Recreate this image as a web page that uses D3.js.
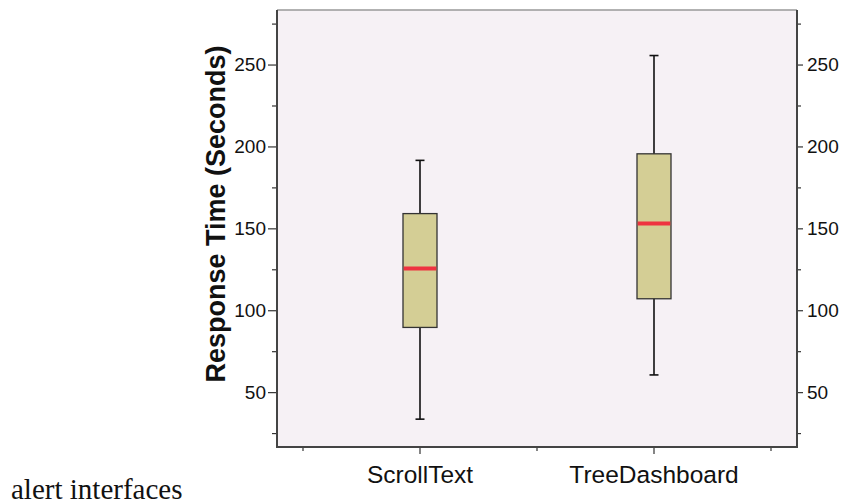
<!DOCTYPE html>
<html lang="en">
<head>
<meta charset="UTF-8">
<title>Response time box plot</title>
<script src="https://cdn.jsdelivr.net/npm/d3@7/dist/d3.min.js"></script>
<style>
  body { margin: 0; background: #fff; }
  svg { display: block; font-family: "Liberation Sans", Arial, sans-serif; }
</style>
</head>
<body>
<svg width="843" height="504"></svg>
<script>
// data
var categories = ["ScrollText", "TreeDashboard"];
var whiskerLow = [33.5, 60.5];
var q1 = [89.5, 107];
var medians = [125.5, 153];
var q3 = [159, 195.5];
var whiskerHigh = [191.5, 255.5];
var majorTicks = [50, 100, 150, 200, 250];
var minorTicks = [25, 75, 125, 175, 225, 275];

var svg = d3.select("svg");
var plot = { left: 277, right: 797, top: 10, bottom: 447 };

var y = d3.scaleLinear().domain([16.5, 283.3]).range([plot.bottom, plot.top]);
var x = d3.scaleBand().domain(categories).range([303, 771]);

// plot background
svg.append("rect")
  .attr("x", plot.left).attr("y", plot.top)
  .attr("width", plot.right - plot.left).attr("height", plot.bottom - plot.top)
  .attr("fill", "#f6f1f5");

// top frame line
svg.append("line")
  .attr("x1", plot.left).attr("x2", plot.right)
  .attr("y1", plot.top).attr("y2", plot.top)
  .attr("stroke", "#999").attr("stroke-width", 1.5);

// left axis
var gl = svg.append("g").attr("transform", "translate(" + plot.left + ",0)");
gl.call(d3.axisLeft(y).tickValues(majorTicks).tickSize(9).tickPadding(2).tickFormat(d3.format("d")));
var gl2 = svg.append("g").attr("transform", "translate(" + plot.left + ",0)");
gl2.call(d3.axisLeft(y).tickValues(minorTicks).tickSize(5).tickFormat(""));

// right axis
var gr = svg.append("g").attr("transform", "translate(" + plot.right + ",0)");
gr.call(d3.axisRight(y).tickValues(majorTicks).tickSize(6).tickPadding(4).tickFormat(d3.format("d")));
var gr2 = svg.append("g").attr("transform", "translate(" + plot.right + ",0)");
gr2.call(d3.axisRight(y).tickValues(minorTicks).tickSize(4).tickFormat(""));

// bottom axis
var gb = svg.append("g").attr("transform", "translate(0," + plot.bottom + ")");
gb.call(d3.axisBottom(x).tickSize(7).tickPadding(12));
var bounds = x.domain().map(function(d) { return x(d); }).concat([x.range()[1]]);
var gb2 = svg.append("g").attr("transform", "translate(0," + plot.bottom + ")");
gb2.selectAll("line").data(bounds).enter().append("line")
  .attr("x1", function(d) { return d; }).attr("x2", function(d) { return d; })
  .attr("y1", 0).attr("y2", 4)
  .attr("stroke", "#333").attr("stroke-width", 1.2);

// axis styling
svg.selectAll(".domain").remove();
svg.selectAll(".tick line").attr("stroke", "#333").attr("stroke-width", 1.2);
gl.selectAll("text").attr("font-size", 19).attr("fill", "#111");
gr.selectAll("text").attr("font-size", 19).attr("fill", "#111");
gb.selectAll("text").attr("font-size", 24.5).attr("fill", "#111");

// axis lines
svg.append("line").attr("x1", plot.left).attr("x2", plot.left)
  .attr("y1", plot.top).attr("y2", plot.bottom + 1)
  .attr("stroke", "#444").attr("stroke-width", 2);
svg.append("line").attr("x1", plot.right).attr("x2", plot.right)
  .attr("y1", plot.top).attr("y2", plot.bottom + 1)
  .attr("stroke", "#444").attr("stroke-width", 2);
svg.append("line").attr("x1", plot.left).attr("x2", plot.right)
  .attr("y1", plot.bottom).attr("y2", plot.bottom)
  .attr("stroke", "#444").attr("stroke-width", 2);

// boxes
var boxW = 34, capW = 9;
var boxes = svg.append("g").selectAll("g").data(categories).enter().append("g")
  .attr("transform", function(d) { return "translate(" + (x(d) + x.bandwidth() / 2) + ",0)"; });

boxes.append("line")
  .attr("x1", 0).attr("x2", 0)
  .attr("y1", function(d, i) { return y(whiskerHigh[i]); })
  .attr("y2", function(d, i) { return y(whiskerLow[i]); })
  .attr("stroke", "#111").attr("stroke-width", 1.6);
boxes.append("line")
  .attr("x1", -capW / 2).attr("x2", capW / 2)
  .attr("y1", function(d, i) { return y(whiskerHigh[i]); })
  .attr("y2", function(d, i) { return y(whiskerHigh[i]); })
  .attr("stroke", "#111").attr("stroke-width", 1.6);
boxes.append("line")
  .attr("x1", -capW / 2).attr("x2", capW / 2)
  .attr("y1", function(d, i) { return y(whiskerLow[i]); })
  .attr("y2", function(d, i) { return y(whiskerLow[i]); })
  .attr("stroke", "#111").attr("stroke-width", 1.6);
boxes.append("rect")
  .attr("x", -boxW / 2).attr("width", boxW)
  .attr("y", function(d, i) { return y(q3[i]); })
  .attr("height", function(d, i) { return y(q1[i]) - y(q3[i]); })
  .attr("fill", "#d4ce95").attr("stroke", "#333").attr("stroke-width", 1.3);
boxes.append("line")
  .attr("x1", -boxW / 2 + 0.7).attr("x2", boxW / 2 - 0.7)
  .attr("y1", function(d, i) { return y(medians[i]); })
  .attr("y2", function(d, i) { return y(medians[i]); })
  .attr("stroke", "#ee3340").attr("stroke-width", 4);

// y axis title
svg.append("text")
  .attr("transform", "translate(225,214) rotate(-90)")
  .attr("text-anchor", "middle")
  .attr("font-size", 27).attr("font-weight", "bold").attr("fill", "#111")
  .text("Response Time (Seconds)");

// caption fragment at the bottom
svg.append("text")
  .attr("x", 11).attr("y", 499)
  .attr("font-family", "'Liberation Serif', serif")
  .attr("font-size", 29).attr("fill", "#111")
  .text("alert interfaces");
</script>
</body>
</html>
